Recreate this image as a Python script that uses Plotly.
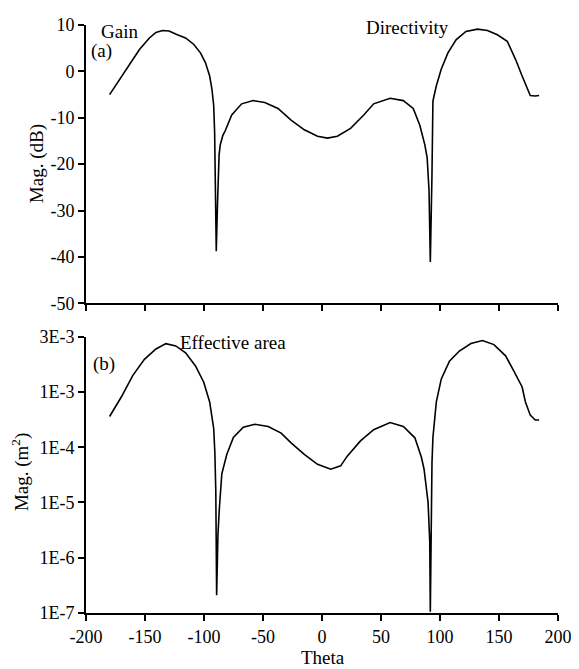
import plotly.graph_objects as go
from plotly.subplots import make_subplots

# Panel (a): gain / directivity in dB
theta_a = [-180, -171.5, -163.1, -154.7, -146.3, -140.7, -135.2, -129.6, -122.6, -115.6, -108.6,
           -103, -98.8, -95.2, -93.3, -91.8, -91, -90.3, -89.6, -88.5, -87.2, -86.2, -84, -82,
           -76.5, -68.1, -58.3, -48.5, -37.3, -26.2, -15, -3.8, 4.6, 13, 24.2, 35.4, 43.8, 57.7,
           68.9, 77.3, 82.9, 87.1, 89.1, 90.7, 91.8, 93.2, 94, 96.9, 101.1, 106.7, 113.6, 122,
           131.8, 140.2, 148.6, 157, 164, 169.6, 174.3, 176.5, 180.7, 184]
gain_db = [-5.0, -1.7, 1.5, 4.7, 7.2, 8.4, 8.8, 8.7, 7.9, 7.2, 5.8,
           4.0, 1.9, -1.0, -3.8, -7.3, -13.0, -25.0, -38.8, -28.0, -18.0, -15.8, -13.8, -12.8,
           -9.4, -7.0, -6.3, -6.7, -8.0, -10.5, -12.6, -14.0, -14.4, -14.0, -12.3, -9.4, -7.0, -5.8,
           -6.3, -8.0, -11.6, -15.8, -18.6, -25.7, -41.1, -22.2, -6.4, -3.1, 0.5, 4.0, 6.8, 8.6,
           9.1, 8.8, 7.9, 6.5, 2.6, -1.0, -4.1, -5.2, -5.3, -5.2]

# Panel (b): effective area in m^2
theta_b = [-180, -170.1, -160.3, -150.5, -140.7, -132.3, -123.9, -115.6, -107.2, -100.2, -95.2,
           -91.8, -90.8, -90, -89.3, -88.2, -87, -84.9, -80.7, -75.1, -66.7, -56.9, -45.6, -34.6,
           -26.2, -15, -3.8, 7.4, 15.8, 21.4, 32.6, 43.8, 57.7, 68.9, 78.7, 84.3, 86.5, 88.5, 89.9,
           91.3, 91.8, 93.2, 94, 96.9, 101.1, 108, 116.4, 126.2, 136, 145.7, 155.6, 162.5, 169.6,
           172.4, 176.5, 180.7, 184]
area_m2 = [3.6e-4, 8.1e-4, 2.0e-3, 3.9e-3, 6.0e-3, 7.5e-3, 6.8e-3, 5.1e-3, 2.95e-3, 1.5e-3, 6.6e-4,
           2.2e-4, 8.0e-5, 1.6e-5, 2.1e-7, 2.5e-6, 7.8e-6, 3.3e-5, 7.4e-5, 1.5e-4, 2.3e-4, 2.6e-4, 2.37e-4, 1.8e-4,
           1.2e-4, 7.4e-5, 4.9e-5, 4.0e-5, 4.6e-5, 6.9e-5, 1.3e-4, 2.07e-4, 2.8e-4, 2.37e-4, 1.48e-4, 6.5e-5, 4.0e-5, 2.0e-5, 1.0e-5,
           2.0e-6, 1.05e-7, 5.2e-5, 1.5e-4, 6.6e-4, 1.72e-3, 3.6e-3, 5.5e-3, 7.5e-3, 8.5e-3, 7.2e-3, 4.5e-3, 2.4e-3, 1.23e-3,
           6.6e-4, 3.8e-4, 3.1e-4, 3.1e-4]

x_ticks = [-200, -150, -100, -50, 0, 50, 100, 150, 200]
x_ticktext = ["-200", "-150", "-100", "-50", "0", "50", "100", "150", "200"]
y_ticks_a = [10, 0, -10, -20, -30, -40, -50]
y_ticktext_a = ["10", "0", "-10", "-20", "-30", "-40", "-50"]
y_ticks_b = [1e-7, 1e-6, 1e-5, 1e-4, 1e-3, 1e-2]
y_ticktext_b = ["1E-7", "1E-6", "1E-5", "1E-4", "1E-3", "3E-3"]

# page is 579x669; the html body adds an 8px margin, so the figure is 8px smaller
PAGE_W, PAGE_H = 579, 669
OFF = 8
W, H = PAGE_W - OFF, PAGE_H - OFF
L, R, T, B = 86 - OFF, 16, 15 - OFF, 56
FONT = "Liberation Serif, Times New Roman, serif"
TICK_SIZE = 18
TEXT_SIZE = 19

fig = make_subplots(rows=2, cols=1, vertical_spacing=0.0)

fig.add_trace(go.Scatter(x=theta_a, y=gain_db, mode="lines",
                         line=dict(color="black", width=1.6), showlegend=False), row=1, col=1)
fig.add_trace(go.Scatter(x=theta_b, y=area_m2, mode="lines",
                         line=dict(color="black", width=1.6), showlegend=False), row=2, col=1)

PLOT_W = W - L - R
PLOT_H = H - T - B

def px2x(px):
    # px in page pixels
    return (px - 86) / PLOT_W

def py2y(py):
    return (613 - py) / PLOT_H

axis_common = dict(showline=True, linecolor="black", linewidth=2, ticks="outside",
                   ticklen=6, tickwidth=2, tickcolor="black", showgrid=False, zeroline=False,
                   tickfont=dict(family=FONT, size=TICK_SIZE, color="black"))

fig.update_layout(
    width=W, height=H,
    margin=dict(l=L, r=R, t=T, b=B),
    paper_bgcolor="white", plot_bgcolor="white",
    font=dict(family=FONT, size=TICK_SIZE, color="black"),
    xaxis=dict(domain=[0, 1], range=[-200, 200], tickvals=x_ticks, ticktext=x_ticktext,
               showticklabels=False, anchor="y", **axis_common),
    yaxis=dict(domain=[py2y(298), 1], range=[-50, 10], tickvals=y_ticks_a,
               ticktext=y_ticktext_a, anchor="x", **axis_common),
    xaxis2=dict(domain=[0, 1], range=[-200, 200], tickvals=x_ticks, ticktext=x_ticktext,
                anchor="y2", **axis_common),
    yaxis2=dict(domain=[0, py2y(332)], type="log", range=[-7, -2], tickvals=y_ticks_b,
                ticktext=y_ticktext_b, anchor="x2", **axis_common),
)

ann = [
    ("Gain", 120, 22, 0),
    ("(a)", 102, 41, 0),
    ("Directivity", 411, 18, 0),
    ("(b)", 104, 360, 0),
    ("Effective area", 235, 338, 0),
    ("Theta", 326, 658, 0),
    ("Mag. (dB)", 36, 156, -90),
    ("Mag. (m<sup>2</sup>)", 20, 470, -90),
]
for text, px, py, ang in ann:
    fig.add_annotation(text=text, x=px2x(px), y=py2y(py), xref="paper", yref="paper",
                       showarrow=False, xanchor="center", yanchor="middle", textangle=ang,
                       font=dict(family=FONT, size=TEXT_SIZE, color="black"))

fig.write_html("out.html")
